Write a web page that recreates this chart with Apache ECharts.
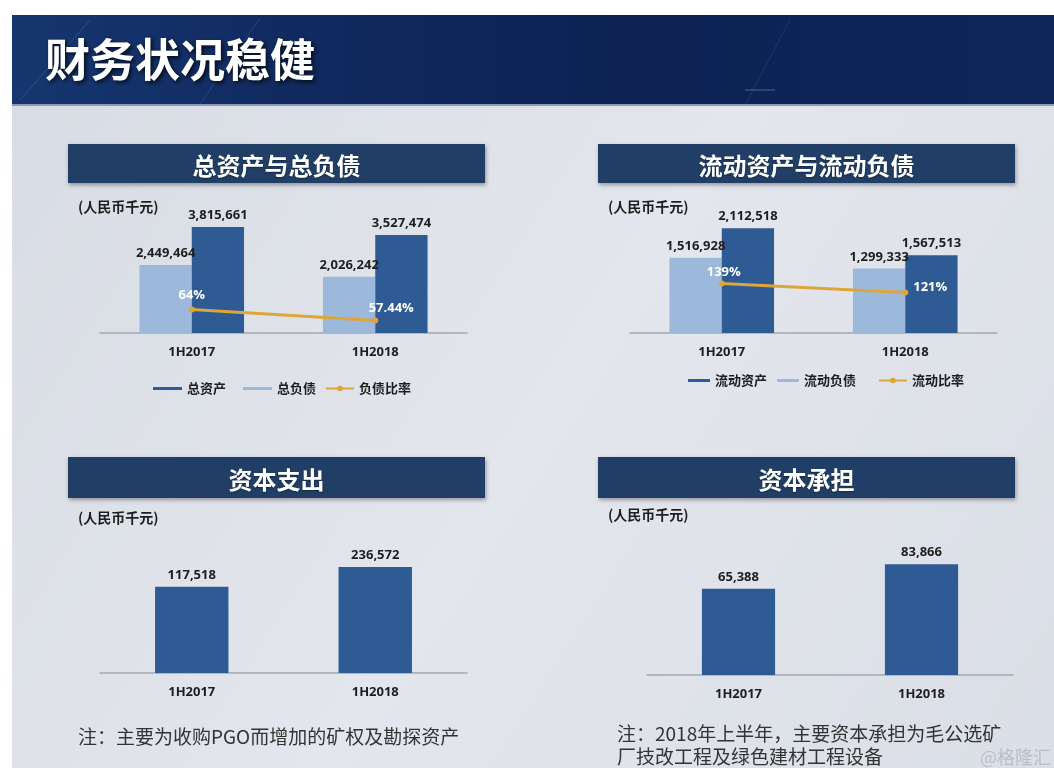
<!DOCTYPE html>
<html><head><meta charset="utf-8">
<script src="https://cdn.jsdelivr.net/npm/echarts@6/dist/echarts.min.js"></script>
<style>html,body{margin:0;padding:0;background:#fff}#c{width:1054px;height:768px}</style>
</head><body><div id="c"></div>
<script>
// ---- data ----
const categories = ['1H2017', '1H2018'];
const totalAssets = [3815661, 3527474];
const totalLiabilities = [2449464, 2026242];
const debtRatio = [64, 57.44];
const currentAssets = [2112518, 1567513];
const currentLiabilities = [1516928, 1299333];
const currentRatio = [139, 121];
const capex = [117518, 236572];
const capCommit = [65388, 83866];

const pageTitle = '财务状况稳健';
const panelTitles = ['总资产与总负债', '流动资产与流动负债', '资本支出', '资本承担'];
const unitText = '(人民币千元)';
const note1 = '注：主要为收购PGO而增加的矿权及勘探资产';
const note2a = '注：2018年上半年，主要资本承担为毛公选矿';
const note2b = '厂技改工程及绿色建材工程设备';
const watermark = '@格隆汇';

// ---- styles ----
const DARK = '#2f5b94';
const LIGHT = '#9cb8db';
const ORANGE = '#dca63a';
const NAVY = '#213f66';
const FONT = "'Open Sans', 'Noto Sans CJK SC', sans-serif";
const CJK = "'Noto Sans CJK SC', sans-serif";

const fmt = v => Number(v).toLocaleString('en-US');

const chart = echarts.init(document.getElementById('c'), null, {renderer: 'canvas'});

function titleBar(x, y, w, h, text) {
  return [
    {type: 'rect', z: 5, shape: {x: x, y: y, width: w, height: h},
     style: {fill: NAVY, shadowBlur: 4, shadowColor: 'rgba(0,0,0,0.35)', shadowOffsetY: 2, shadowOffsetX: 1}},
    {type: 'text', z: 6, x: x + w / 2, y: y + h / 2 + 2,
     style: {text: text, fill: '#ffffff', font: 'bold 24px ' + CJK, align: 'center', verticalAlign: 'middle',
             textShadowColor: 'rgba(0,0,0,0.4)', textShadowBlur: 2, textShadowOffsetY: 1}}
  ];
}
function unit(x, y) {
  return {type: 'text', z: 6, x: x, y: y,
    style: {text: unitText, fill: '#1e1e1e', font: 'bold 14px ' + CJK, verticalAlign: 'middle'}};
}

const graphics = [
  {type: 'rect', z: -20, shape: {x: 12, y: 100, width: 1042, height: 668},
   style: {fill: new echarts.graphic.LinearGradient(0, 0, 1, 1, [
     {offset: 0, color: '#d8dce4'}, {offset: 0.5, color: '#e3e6ec'}, {offset: 1, color: '#dadee6'}])}},
  {type: 'rect', z: -10, shape: {x: 12, y: 15, width: 1042, height: 91},
   style: {fill: new echarts.graphic.LinearGradient(0, 0, 1, 0, [
     {offset: 0, color: '#163670'}, {offset: 0.3, color: '#10295e'}, {offset: 0.6, color: '#0d2253'},
     {offset: 1, color: '#0f2659'}])}},
  {type: 'line', z: -9, shape: {x1: 20, y1: 100, x2: 90, y2: 20}, style: {stroke: 'rgba(120,160,230,0.25)', lineWidth: 1}},
  {type: 'line', z: -9, shape: {x1: 200, y1: 104, x2: 260, y2: 18}, style: {stroke: 'rgba(120,160,230,0.2)', lineWidth: 1}},
  {type: 'line', z: -9, shape: {x1: 745, y1: 105, x2: 790, y2: 20}, style: {stroke: 'rgba(120,160,230,0.15)', lineWidth: 1}},
  {type: 'line', z: -9, shape: {x1: 745, y1: 90, x2: 775, y2: 90}, style: {stroke: 'rgba(150,180,230,0.45)', lineWidth: 1}},
  {type: 'rect', z: -9, shape: {x: 12, y: 104, width: 1042, height: 2}, style: {fill: '#8a9ab8'}},
  {type: 'text', z: 10, x: 45, y: 60,
   style: {text: pageTitle, fill: '#ffffff', font: 'bold 45px ' + CJK, verticalAlign: 'middle',
           textShadowColor: 'rgba(0,0,0,0.75)', textShadowBlur: 4, textShadowOffsetX: 2, textShadowOffsetY: 2}},
  ...titleBar(68, 144, 417, 39, panelTitles[0]),
  ...titleBar(598, 144, 417, 39, panelTitles[1]),
  ...titleBar(68, 457, 417, 41, panelTitles[2]),
  ...titleBar(598, 457, 417, 41, panelTitles[3]),
  unit(78, 207), unit(608, 207), unit(78, 518), unit(608, 515),
  {type: 'text', z: 6, x: 78, y: 737,
   style: {text: note1, fill: '#333333', font: '19px ' + CJK, verticalAlign: 'middle'}},
  {type: 'text', z: 6, x: 617, y: 734,
   style: {text: note2a, fill: '#333333', font: '19px ' + CJK, verticalAlign: 'middle'}},
  {type: 'text', z: 6, x: 617, y: 757,
   style: {text: note2b, fill: '#333333', font: '19px ' + CJK, verticalAlign: 'middle'}},
  {type: 'text', z: 6, x: 980, y: 757,
   style: {text: watermark, fill: '#b9bdc5', font: '18px ' + CJK, verticalAlign: 'middle'}}
];

const catAxis = (gi) => ({
  type: 'category', gridIndex: gi, data: categories,
  axisLine: {onZero: false, lineStyle: {color: '#a3a8b2', width: 1.5}}, axisTick: {show: false},
  axisLabel: {color: '#1e1e1e', fontWeight: 'bold', fontSize: 13, fontFamily: FONT, margin: 13}
});
const valAxis = (gi, min, max) => ({type: 'value', gridIndex: gi, min: min, max: max, show: false, splitLine: {show: false}});

const barLabel = {show: true, position: 'top', distance: 5, color: '#1e1e1e', fontWeight: 'bold', fontSize: 13,
                  fontFamily: FONT, formatter: p => fmt(p.value)};
const ratioLabel = {show: true, position: 'top', distance: 5, color: '#ffffff', fontWeight: 'bold', fontSize: 13,
                    fontFamily: FONT, formatter: p => p.value + '%'};

// label tweaks for the ratio points (layout only)
const debtRatioLabelTweak = [{}, {offset: [16, 2]}];
const curRatioLabelTweak = [{offset: [2, 3]}, {position: 'right', offset: [0, -5]}];

const legendText = {color: '#1e1e1e', fontWeight: 'bold', fontSize: 13, fontFamily: CJK};

// bar drawn from the bottom of the (truncated) value axis, as in the source slide
function baseBar(params, api) {
  const cs = params.coordSys;
  const v = api.value(1);
  const top = api.coord([api.value(0), v]);
  const bw = api.size([1, 0])[0] * 0.4;
  const baseY = cs.y + cs.height;
  return {
    type: 'rect',
    shape: {x: top[0] - bw / 2, y: top[1], width: bw, height: baseY - top[1]},
    style: {fill: DARK},
    textContent: {style: {text: fmt(v), fill: '#1e1e1e', font: 'bold 13px ' + FONT}},
    textConfig: {position: 'top', distance: 5}
  };
}

const option = {
  backgroundColor: '#ffffff',
  animation: false,
  graphic: graphics,
  grid: [
    {left: 100, right: 587, top: 194, bottom: 435},
    {left: 630, right: 57, top: 194, bottom: 435},
    {left: 100, right: 587, top: 533, bottom: 95},
    {left: 647, right: 41, top: 535, bottom: 93}
  ],
  xAxis: [catAxis(0), catAxis(1), catAxis(2), catAxis(3)],
  yAxis: [
    valAxis(0, 0, 5000000), valAxis(0, 50, 133),
    valAxis(1, 0, 2800000), valAxis(1, 40, 318),
    valAxis(2, -400000, 440000),
    valAxis(3, 0, 106000)
  ],
  legend: [
    {left: 148, top: 377, data: ['总资产', '总负债'], icon: 'rect', itemWidth: 29, itemHeight: 3, itemGap: 17, textStyle: legendText},
    {left: 320, top: 377, data: ['负债比率'], itemWidth: 28, itemHeight: 7, textStyle: legendText},
    {left: 683, top: 369, data: ['流动资产', '流动负债'], icon: 'rect', itemWidth: 22, itemHeight: 3, itemGap: 10, textStyle: legendText},
    {left: 873, top: 369, data: ['流动比率'], itemWidth: 28, itemHeight: 7, textStyle: legendText}
  ],
  series: [
    {name: '总负债', type: 'bar', xAxisIndex: 0, yAxisIndex: 0, data: totalLiabilities,
     barWidth: '28.5%', barGap: '0%', itemStyle: {color: LIGHT}, label: barLabel},
    {name: '总资产', type: 'bar', xAxisIndex: 0, yAxisIndex: 0, data: totalAssets,
     barWidth: '28.5%', barGap: '0%', itemStyle: {color: DARK}, label: barLabel},
    {name: '负债比率', type: 'line', xAxisIndex: 0, yAxisIndex: 1,
     data: debtRatio.map((v, i) => ({value: v, label: debtRatioLabelTweak[i]})),
     symbol: 'circle', symbolSize: 6, itemStyle: {color: ORANGE}, lineStyle: {color: ORANGE, width: 3},
     label: ratioLabel, z: 5},
    {name: '流动负债', type: 'bar', xAxisIndex: 1, yAxisIndex: 2, data: currentLiabilities,
     barWidth: '28.5%', barGap: '0%', itemStyle: {color: LIGHT}, label: barLabel},
    {name: '流动资产', type: 'bar', xAxisIndex: 1, yAxisIndex: 2, data: currentAssets,
     barWidth: '28.5%', barGap: '0%', itemStyle: {color: DARK}, label: barLabel},
    {name: '流动比率', type: 'line', xAxisIndex: 1, yAxisIndex: 3,
     data: currentRatio.map((v, i) => ({value: v, label: curRatioLabelTweak[i]})),
     symbol: 'circle', symbolSize: 6, itemStyle: {color: ORANGE}, lineStyle: {color: ORANGE, width: 3},
     label: ratioLabel, z: 5},
    {name: '资本支出', type: 'custom', xAxisIndex: 2, yAxisIndex: 4,
     data: capex.map((v, i) => [i, v]), encode: {x: 0, y: 1}, renderItem: baseBar},
    {name: '资本承担', type: 'bar', xAxisIndex: 3, yAxisIndex: 5, data: capCommit,
     barWidth: '40%', itemStyle: {color: DARK}, label: barLabel}
  ]
};
chart.setOption(option);
</script>
</body></html>
